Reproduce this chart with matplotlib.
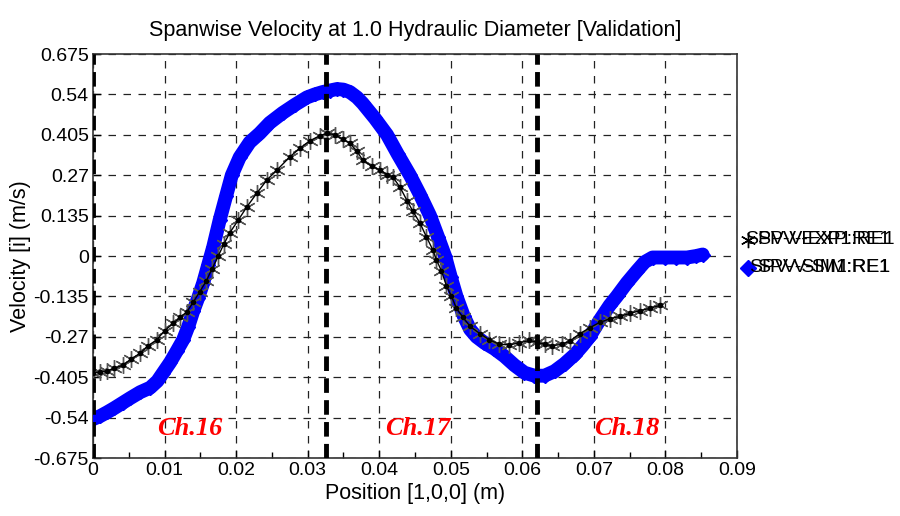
import matplotlib
matplotlib.use("Agg")
import matplotlib.pyplot as plt
from matplotlib.lines import Line2D

plt.rcParams['font.family'] = ['Liberation Sans', 'DejaVu Sans']

# Experimental spanwise velocity (SPV-EXP)
exp_x = [0.0, 0.001, 0.002, 0.003, 0.0042, 0.0053, 0.0066, 0.0077, 0.0089, 0.010,
         0.0112, 0.0122, 0.0131, 0.014, 0.0149, 0.0158, 0.0166, 0.0175, 0.0183, 0.0191,
         0.0203, 0.0215, 0.0229, 0.0243, 0.0257, 0.0275, 0.0289, 0.0303, 0.0317, 0.0327,
         0.0338, 0.0349, 0.0359, 0.0369, 0.0377, 0.039, 0.0401, 0.0411, 0.0419, 0.0429,
         0.0439, 0.0447, 0.0457, 0.0466, 0.0475, 0.048, 0.0487, 0.0494, 0.0501, 0.0508,
         0.0517, 0.0527, 0.0541, 0.0554, 0.0568, 0.0582, 0.0596, 0.061, 0.062, 0.0631,
         0.0642, 0.0655, 0.0666, 0.068, 0.0694, 0.0708, 0.0722, 0.0736, 0.075, 0.0764,
         0.0778, 0.0792]
exp_v = [-0.39, -0.388, -0.384, -0.375, -0.365, -0.345, -0.325, -0.30, -0.28, -0.25,
         -0.225, -0.205, -0.187, -0.155, -0.12, -0.085, -0.045, 0.0, 0.04, 0.077,
         0.12, 0.164, 0.21, 0.254, 0.287, 0.331, 0.36, 0.385, 0.402, 0.41,
         0.405, 0.39, 0.377, 0.35, 0.32, 0.30, 0.287, 0.272, 0.264, 0.23,
         0.185, 0.15, 0.11, 0.064, 0.02, -0.013, -0.05, -0.10, -0.135, -0.175,
         -0.205, -0.235, -0.26, -0.28, -0.295, -0.297, -0.29, -0.282, -0.288, -0.295,
         -0.30, -0.295, -0.285, -0.26, -0.24, -0.222, -0.21, -0.202, -0.192, -0.183,
         -0.175, -0.165]

# Simulated spanwise velocity (SPV-SIM)
sim_x = [0.0, 0.001, 0.002, 0.003, 0.0042, 0.0052, 0.0066, 0.008, 0.009, 0.0098,
         0.0108, 0.0117, 0.0126, 0.0133, 0.014, 0.0147, 0.0154, 0.0161, 0.0168, 0.0177,
         0.0186, 0.0194, 0.0205, 0.0219, 0.0233, 0.0247, 0.0265, 0.0282, 0.0299, 0.031,
         0.0321, 0.0331, 0.0341, 0.035, 0.0359, 0.0369, 0.0377, 0.0394, 0.0411, 0.0426,
         0.0443, 0.0457, 0.0471, 0.0482, 0.0492, 0.050, 0.0508, 0.0518, 0.0527, 0.0536,
         0.0547, 0.0561, 0.0575, 0.0589, 0.0603, 0.0617, 0.0631, 0.0645, 0.0659, 0.0673,
         0.0684, 0.0694, 0.0708, 0.0722, 0.0732, 0.0746, 0.076, 0.0771, 0.0782, 0.0799,
         0.0815, 0.083, 0.0843, 0.0852]
sim_v = [-0.545, -0.535, -0.522, -0.508, -0.49, -0.475, -0.455, -0.44, -0.418, -0.39,
         -0.355, -0.318, -0.28, -0.237, -0.185, -0.14, -0.09, -0.03, 0.03, 0.12,
         0.20, 0.27, 0.33, 0.38, 0.41, 0.445, 0.478, 0.505, 0.53, 0.54,
         0.548, 0.553, 0.558, 0.556, 0.548, 0.53, 0.51, 0.46, 0.405, 0.34,
         0.27, 0.205, 0.135, 0.065, 0.0, -0.07, -0.135, -0.20, -0.245, -0.27,
         -0.29, -0.31, -0.335, -0.365, -0.39, -0.40, -0.40, -0.385, -0.36, -0.33,
         -0.30, -0.27, -0.215, -0.165, -0.135, -0.09, -0.05, -0.02, -0.005, -0.005,
         -0.005, -0.005, 0.0, 0.005]

channel_x = [0.0, 0.0325, 0.062]
channel_names = ["Ch.16", "Ch.17", "Ch.18"]
channel_label_x = [0.0135, 0.0454, 0.0746]

yticks = [-0.675, -0.54, -0.405, -0.27, -0.135, 0, 0.135, 0.27, 0.405, 0.54, 0.675]
ytick_labels = ["-0.675", "-0.54", "-0.405", "-0.27", "-0.135", "0",
                "0.135", "0.27", "0.405", "0.54", "0.675"]
xticks = [0, 0.01, 0.02, 0.03, 0.04, 0.05, 0.06, 0.07, 0.08, 0.09]
xtick_labels = ["0", "0.01", "0.02", "0.03", "0.04", "0.05", "0.06", "0.07", "0.08", "0.09"]

fig = plt.figure(figsize=(9, 5.16), dpi=100)
ax = fig.add_axes([0.1033, 0.1124, 0.7156, 0.7829])

ax.set_xlim(0, 0.09)
ax.set_ylim(-0.675, 0.675)
ax.set_xticks(xticks)
ax.set_xticklabels(xtick_labels)
ax.set_xticks([0.005 + 0.01 * i for i in range(9)], minor=True)
ax.set_yticks(yticks)
ax.set_yticklabels(ytick_labels)
ax.tick_params(direction='in', which='major', length=6, width=1, labelsize=14, pad=3)
ax.tick_params(direction='in', which='minor', length=4, width=1)
ax.grid(True, which='major', color='#222222', linestyle=(0, (6, 6)), linewidth=0.9)
for s in ax.spines.values():
    s.set_color('#333333')
    s.set_linewidth(1.2)

# simulation band
ax.plot(sim_x, sim_v, color='#0000ff', linewidth=10, solid_capstyle='round', zorder=3)
ax.plot(sim_x, sim_v, color='#0000ff', linestyle='none', marker='D', markersize=7, zorder=3)

# experiment
ax.plot(exp_x, exp_v, color='#555555', linestyle='none', marker=(6, 2, 0),
        markersize=12, markeredgewidth=1.0, zorder=4)
ax.plot(exp_x, exp_v, color='black', linewidth=1.0, marker='o', markersize=3, zorder=5)

for cx in channel_x:
    ax.axvline(cx, color='black', linewidth=3.5, linestyle=(0, (3, 1.5)), zorder=6)

for name, lx in zip(channel_names, channel_label_x):
    ax.text(lx, -0.578, name, color='red', fontsize=19, fontweight='bold',
            fontstyle='italic', family=['Liberation Serif', 'DejaVu Serif'],
            ha='center', va='center', zorder=7)

ax.set_title("Spanwise Velocity at 1.0 Hydraulic Diameter [Validation]",
             fontsize=15.5, pad=13)
ax.set_xlabel("Position [1,0,0] (m)", fontsize=15.5, labelpad=3)
ax.set_ylabel("Velocity [i] (m/s)", fontsize=15.5, labelpad=2)

# legend drawn by hand (overlapping labels as in the original)
fig.add_artist(Line2D([748 / 900], [1 - 240 / 516], color='black', marker=(6, 2, 0),
                      markersize=11, markeredgewidth=1.0, linestyle='none'))
fig.add_artist(Line2D([748 / 900], [1 - 268 / 516], color='#0000ff', marker='D',
                      markersize=8, linestyle='none'))
fig.text(757 / 900, 1 - 240 / 516, "SPV-EXP1:RE1", fontsize=14, va='center', ha='left')
fig.text(890 / 900, 1 - 240 / 516, "SPV-V-EXP:RE1", fontsize=14, va='center', ha='right')
fig.text(757 / 900, 1 - 268 / 516, "SPV-SIM1:RE1", fontsize=14, va='center', ha='left')
fig.text(890 / 900, 1 - 268 / 516, "SPV-V-SIM:RE1", fontsize=14, va='center', ha='right')

fig.savefig("out.png", dpi=100)
